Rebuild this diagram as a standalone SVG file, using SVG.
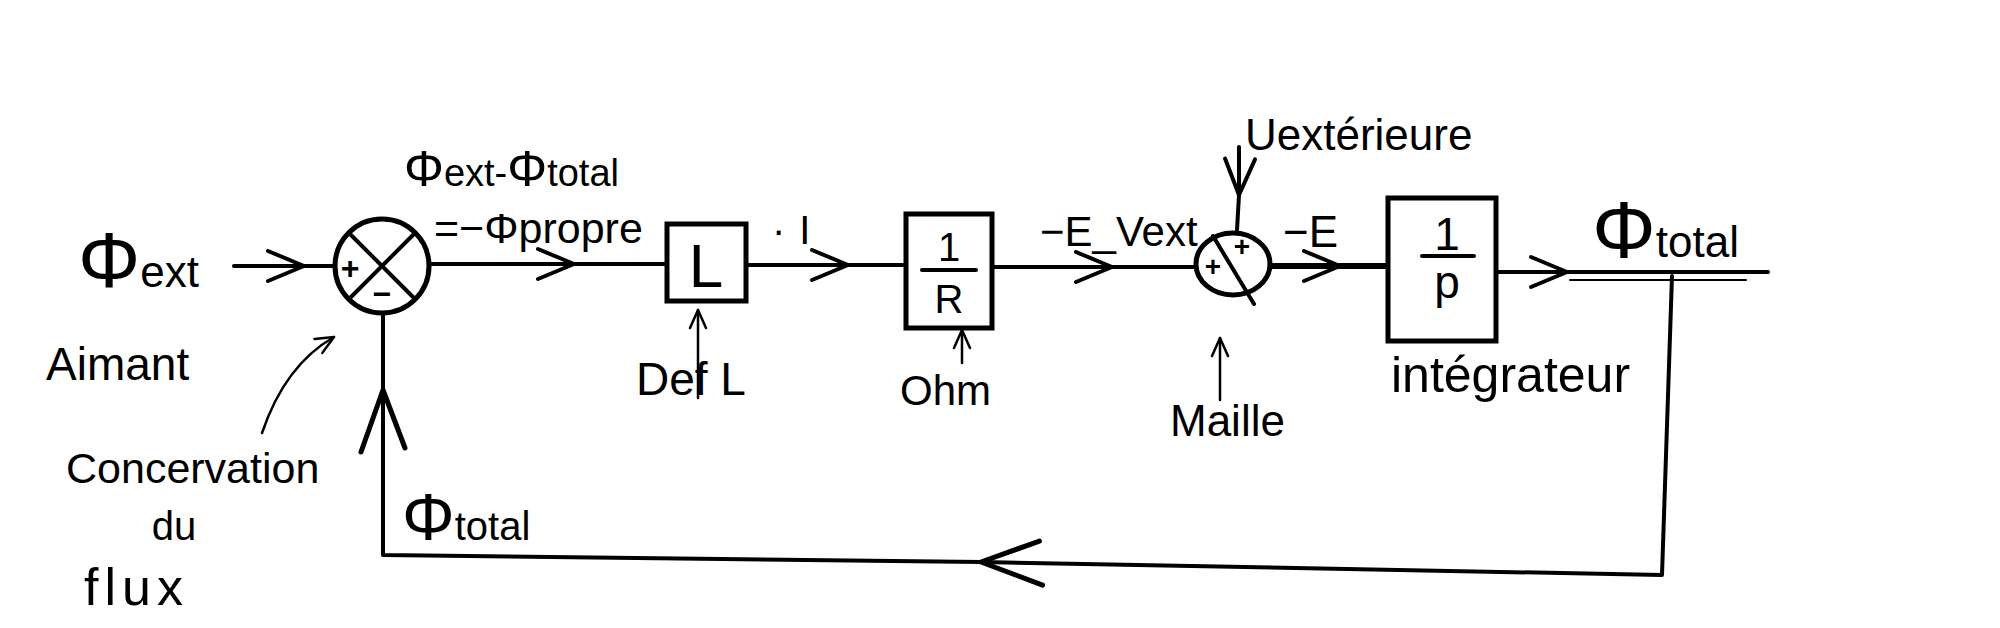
<svg xmlns="http://www.w3.org/2000/svg" width="2000" height="628" viewBox="0 0 2000 628">
<style>
.ln{fill:none;stroke:#000;stroke-width:4;stroke-linecap:round;stroke-linejoin:round}
.thin{fill:none;stroke:#000;stroke-width:2.5;stroke-linecap:round;stroke-linejoin:round}
.box{fill:#fff;stroke:#000;stroke-width:5}
.t{font-family:"Liberation Sans","DejaVu Sans",sans-serif;fill:#000}
.mid{marker-mid:url(#chev)}
</style>
<defs>
<marker id="chev" markerUnits="userSpaceOnUse" viewBox="-45 -25 50 50" markerWidth="50" markerHeight="50" refX="0" refY="0" orient="auto" style="overflow:visible">
<path d="M-36,-15 L0,0 L-36,15" fill="none" stroke="#000" stroke-width="4" stroke-linecap="round" stroke-linejoin="round"/>
</marker>
<marker id="big" markerUnits="userSpaceOnUse" viewBox="-70 -35 80 70" markerWidth="80" markerHeight="70" refX="0" refY="0" orient="auto" style="overflow:visible">
<path d="M-62,-22 L0,0 L-58,22" fill="none" stroke="#000" stroke-width="5" stroke-linecap="round" stroke-linejoin="round"/>
</marker>
<marker id="small" markerUnits="userSpaceOnUse" viewBox="-25 -15 30 30" markerWidth="30" markerHeight="30" refX="0" refY="0" orient="auto" style="overflow:visible">
<path d="M-18,-8 L0,0 L-18,8" fill="none" stroke="#000" stroke-width="2.5" stroke-linecap="round" stroke-linejoin="round"/>
</marker>
</defs>
<rect width="2000" height="628" fill="#fff"/>

<g id="connectors">
<path class="ln mid" d="M234,266 L304,266 L333,266"/>
<path class="ln mid" d="M430,264 L574,264 L667,264"/>
<path class="ln mid" d="M746,265 L848,265 L906,265"/>
<path class="ln mid" d="M992,267 L1112,267 L1196,267"/>
<path class="ln mid" d="M1270,266 L1340,266 L1388,266" style="stroke-width:6"/>
<path class="ln mid" d="M1497,272 L1567,272 L1768,272"/>
<path class="ln" d="M1570,280 L1746,280" style="stroke-width:2"/>
<path class="ln mid" d="M1239,147 L1239,195 L1237,230"/>
<path class="ln" d="M1672,276 L1662,575 L981,562" marker-end="url(#big)"/>
<path class="ln" d="M981,562 L383,555 L383,390" marker-end="url(#big)"/>
<path class="ln" d="M383,390 L383,313"/>
<path class="thin" d="M698,398 L698,310" marker-end="url(#small)"/>
<path class="thin" d="M962,363 L962,330" marker-end="url(#small)"/>
<path class="thin" d="M1220,400 L1220,338" marker-end="url(#small)"/>
<path class="thin" d="M262,433 Q285,365 334,337" marker-end="url(#small)"/>
</g>

<g id="phi-ext">
<text class="t" x="78" y="287"><tspan font-size="78">Φ</tspan><tspan font-size="44">ext</tspan></text>
<text class="t" x="46" y="380" font-size="46">Aimant</text>
</g>

<g id="sum1">
<circle cx="382" cy="266" r="47" fill="#fff" stroke="#000" stroke-width="5"/>
<path class="ln" d="M349,233 L415,299 M415,233 L349,299"/>
<text class="t" x="350" y="279" font-size="32" text-anchor="middle" font-weight="bold">+</text>
<text class="t" x="382" y="305" font-size="32" text-anchor="middle" font-weight="bold">−</text>
</g>

<g id="label-error">
<text class="t" x="404" y="186"><tspan font-size="50">Φ</tspan><tspan font-size="38">ext-</tspan><tspan font-size="50">Φ</tspan><tspan font-size="38">total</tspan></text>
<text class="t" x="434" y="243" font-size="43">=−Φpropre</text>
</g>

<g id="boxL">
<rect class="box" x="667" y="224" width="79" height="77"/>
<text class="t" x="706" y="287" font-size="62" text-anchor="middle">L</text>
<text class="t" x="636" y="395" font-size="46">Def L</text>
</g>

<text class="t" x="772" y="244" font-size="40" letter-spacing="14">·I</text>

<g id="boxR">
<rect class="box" x="906" y="214" width="86" height="114"/>
<text class="t" x="949" y="261" font-size="40" text-anchor="middle">1</text>
<path class="ln" d="M922,270 L976,270"/>
<text class="t" x="949" y="313" font-size="40" text-anchor="middle">R</text>
<text class="t" x="900" y="405" font-size="42">Ohm</text>
</g>

<text class="t" x="1040" y="246" font-size="42">−E_Vext</text>

<g id="sum2">
<ellipse cx="1233" cy="264" rx="37" ry="31" fill="#fff" stroke="#000" stroke-width="5"/>
<path class="ln" d="M1213,236 L1254,304"/>
<text class="t" x="1213" y="276" font-size="28" text-anchor="middle" font-weight="bold">+</text>
<text class="t" x="1242" y="256" font-size="28" text-anchor="middle" font-weight="bold">+</text>
<text class="t" x="1245" y="150" font-size="44">Uextérieure</text>
<text class="t" x="1170" y="436" font-size="44">Maille</text>
</g>

<text class="t" x="1283" y="247" font-size="44">−E</text>

<g id="boxP">
<rect class="box" x="1388" y="198" width="108" height="143"/>
<text class="t" x="1447" y="250" font-size="46" text-anchor="middle">1</text>
<path class="ln" d="M1422,256 L1474,256"/>
<text class="t" x="1447" y="298" font-size="46" text-anchor="middle">p</text>
<text class="t" x="1391" y="392" font-size="50">intégrateur</text>
</g>

<g id="phi-total-out">
<text class="t" x="1592" y="257"><tspan font-size="80">Φ</tspan><tspan font-size="44">total</tspan></text>
</g>

<g id="phi-total-fb">
<text class="t" x="402" y="540"><tspan font-size="66">Φ</tspan><tspan font-size="40">total</tspan></text>
</g>

<g id="note-conservation">
<text class="t" x="66" y="483" font-size="43">Concervation</text>
<text class="t" x="174" y="540" font-size="40" text-anchor="middle">du</text>
<text class="t" x="84" y="605" font-size="52" letter-spacing="6">flux</text>
</g>
</svg>
